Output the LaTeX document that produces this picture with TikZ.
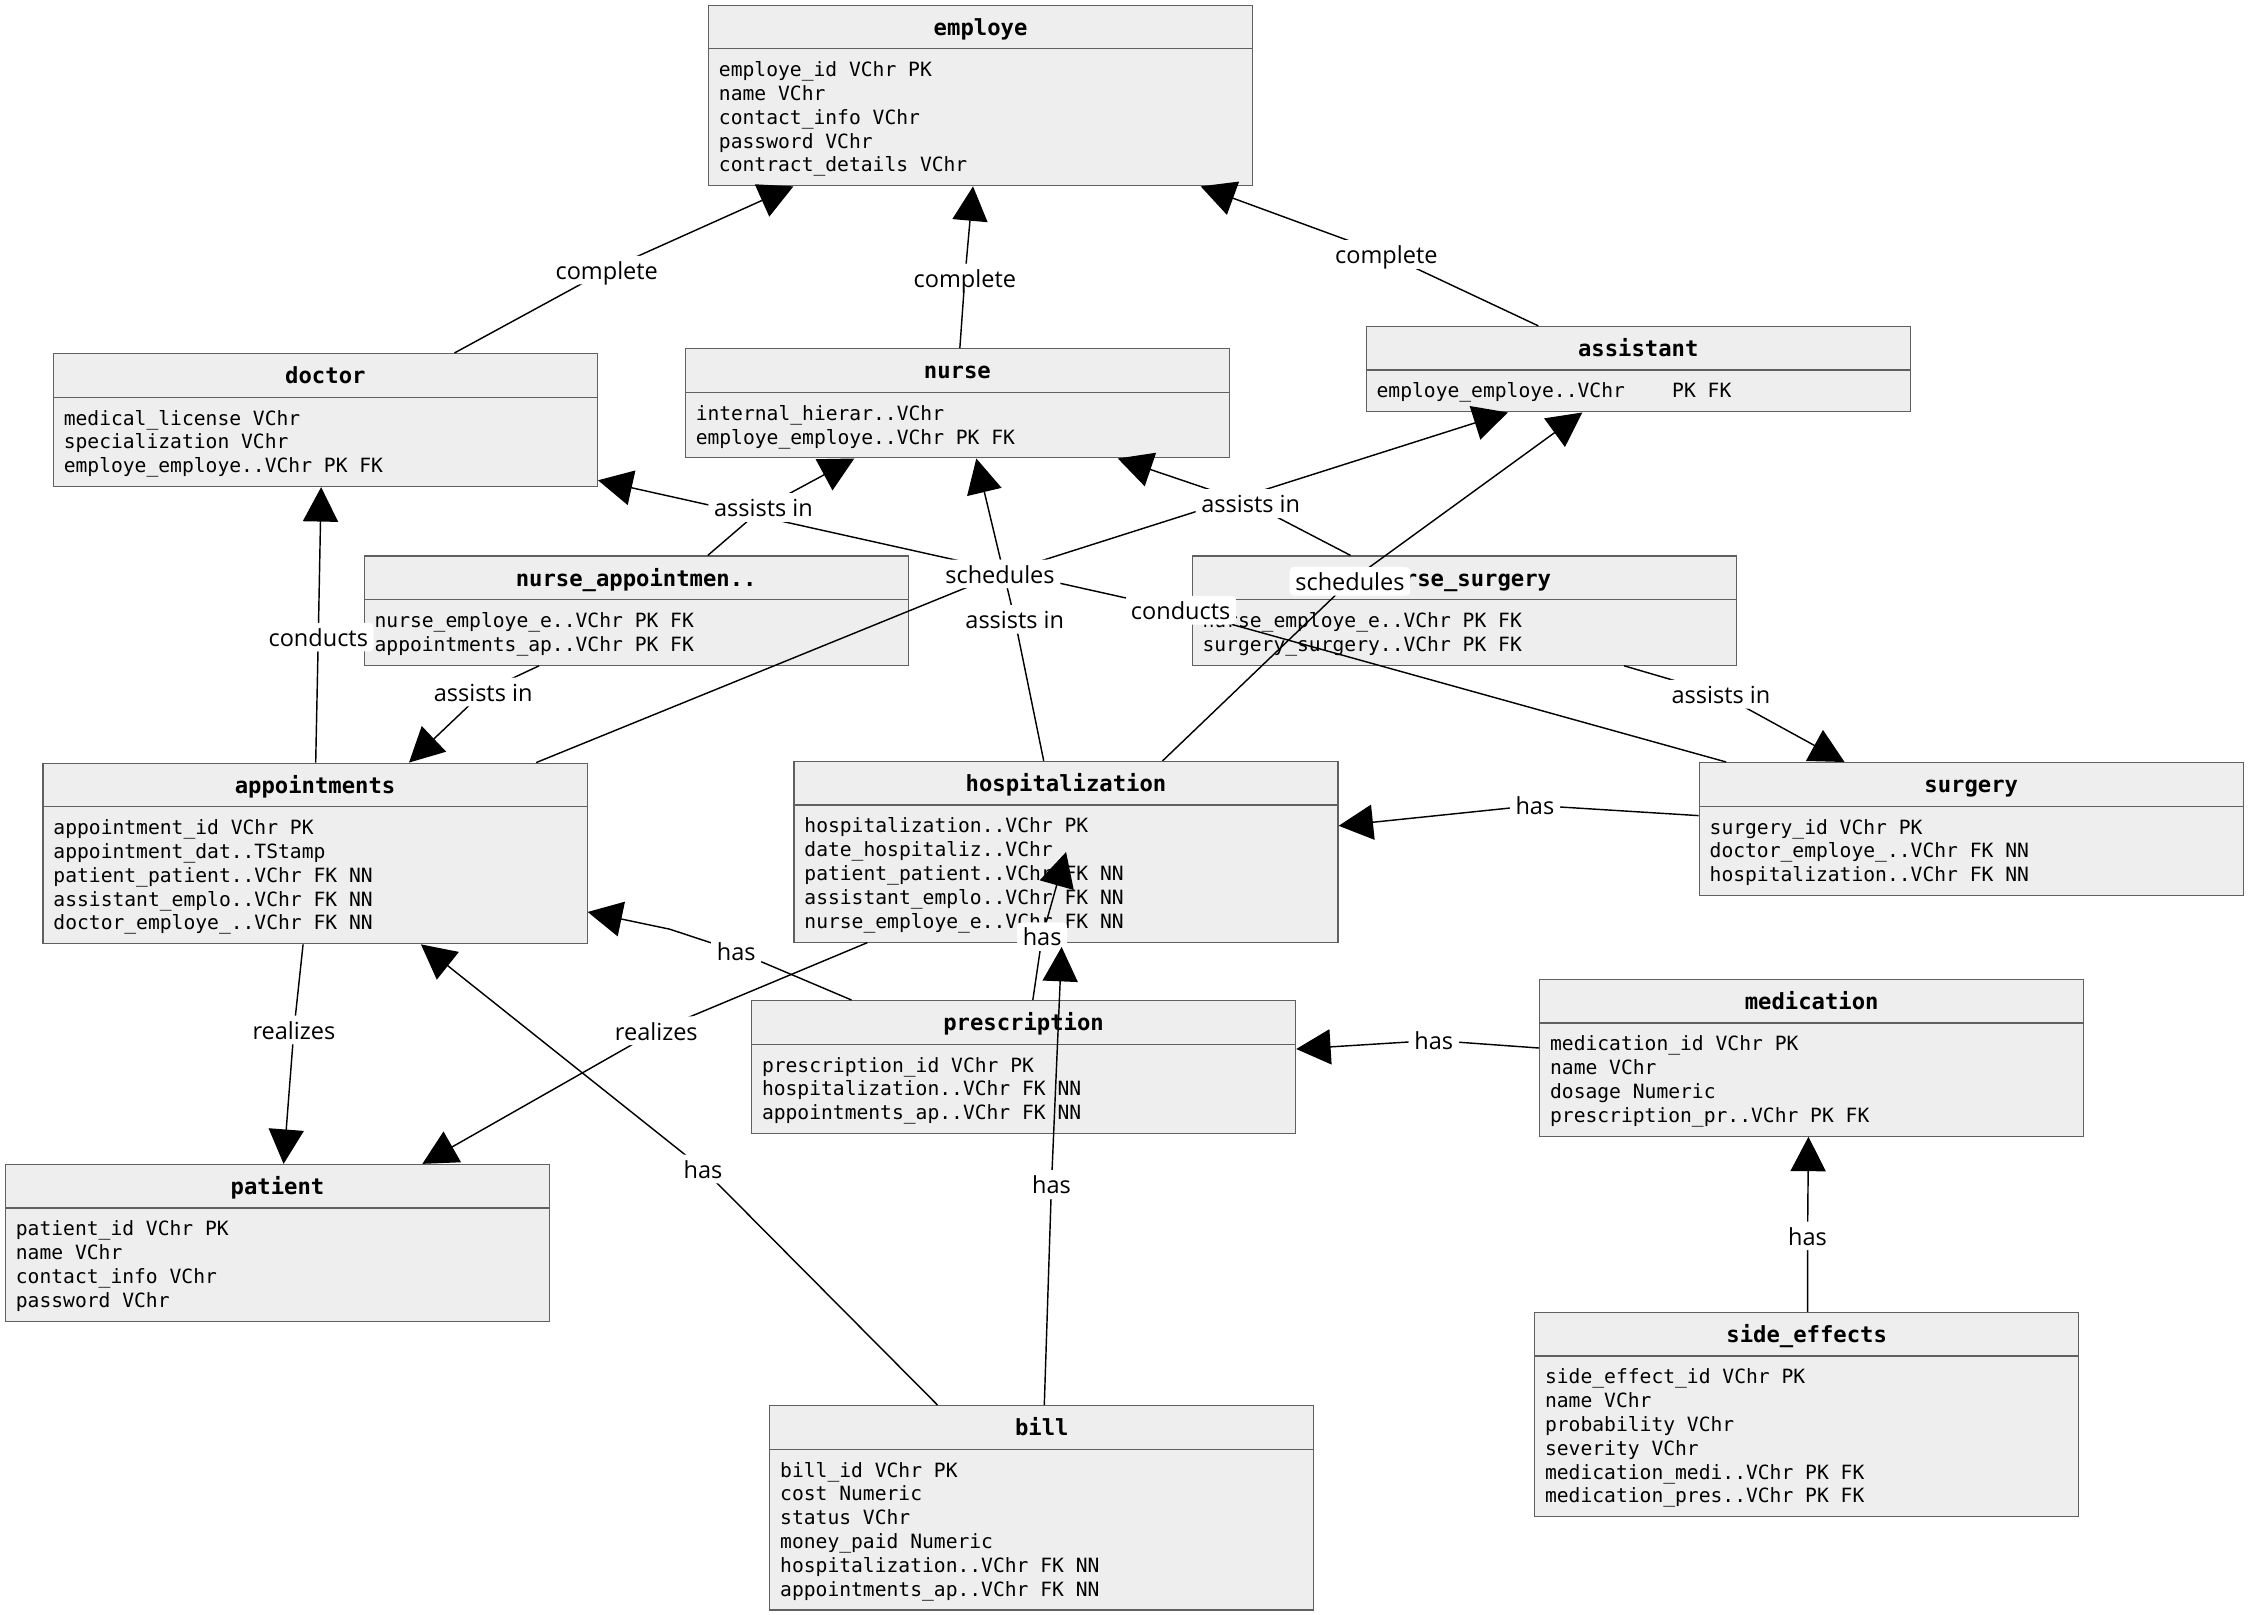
\documentclass[tikz,border=0pt]{standalone}
\usepackage{fontspec}
\setmainfont{Open Sans}
\newfontfamily\lblfamily{Open Sans}
\newfontfamily\monofamily{DejaVu Sans Mono}
\usetikzlibrary{arrows.meta}
\definecolor{boxfill}{HTML}{EEEEEE}
\definecolor{boxline}{HTML}{606060}
\newcommand\ttlfont{\fontsize{15.5pt}{18pt}\monofamily\bfseries}
\newcommand\rowfont{\fontsize{13.7pt}{16.6pt}\monofamily}
\newcommand\lblfont{\fontsize{16.4pt}{19pt}\lblfamily}
\tikzset{
  ebox/.style={draw=boxline, fill=boxfill, line width=0.8pt, minimum width=379.5pt, inner sep=0pt, anchor=north west},
  ediv/.style={draw=boxline, line width=0.8pt},
  etitle/.style={font=\ttlfont, anchor=base, inner sep=0pt},
  erow/.style={font=\rowfont, anchor=base west, inner sep=0pt},
  lbl/.style={font=\lblfont, fill=white, rounded corners=3pt, inner xsep=4pt, inner ysep=2pt, text height=14.5pt, text depth=1.5pt},
  rel/.style={draw=black, line width=1pt, -{Triangle[length=24pt,width=24.5pt]}},
}
% #1 name, #2 left, #3 top, #4 number of rows, #5 title, #6 rows
\newcommand\entity[6]{%
  \node[ebox, minimum height=43pt+16.6pt*#4] (#1) at (#2,#3) {};
  \draw[ediv] ([yshift=-30.8pt]#1.north west) -- ([yshift=-30.8pt]#1.north east);
  \node[etitle] (#1-t) at ([yshift=-21.5pt]#1.north) {#5};
  \foreach \r [count=\i from 0] in {#6} {
    \node[erow] (#1-r\i) at ([shift={(7.5pt,-50.3pt-16.6pt*\i)}]#1.north west) {\r};
  }
}
\begin{document}
\begin{tikzpicture}[x=1pt,y=-1pt]
\fill[white] (0,0) rectangle (1568,1125.8);
\useasboundingbox (0,0) rectangle (1568,1125.8);

% ---------- entities ----------
\entity{employe}{493.8}{3.2}{5}{employe}{{employe\_id VChr PK},{name VChr},{contact\_info VChr},{password VChr},{contract\_details VChr}}
\entity{doctor}{36.8}{246.2}{3}{doctor}{{medical\_license VChr},{specialization VChr},{employe\_employe..VChr PK FK}}
\entity{nurse}{477.6}{242.8}{2}{nurse}{{internal\_hierar..VChr},{employe\_employe..VChr PK FK}}
\entity{assistant}{952.5}{227.3}{1}{assistant}{{employe\_employe..VChr\ \ \ \ PK FK}}
\entity{nurseapp}{253.6}{387.4}{2}{nurse\_appointmen..}{{nurse\_employe\_e..VChr PK FK},{appointments\_ap..VChr PK FK}}
\entity{nursesurg}{831.1}{387.4}{2}{nurse\_surgery}{{nurse\_employe\_e..VChr PK FK},{surgery\_surgery..VChr PK FK}}
\entity{appointments}{29.6}{531.9}{5}{appointments}{{appointment\_id VChr PK},{appointment\_dat..TStamp},{patient\_patient..VChr FK NN},{assistant\_emplo..VChr FK NN},{doctor\_employe\_..VChr FK NN}}
\entity{hospitalization}{553.4}{530.7}{5}{hospitalization}{{hospitalization..VChr PK},{date\_hospitaliz..VChr},{patient\_patient..VChr FK NN},{assistant\_emplo..VChr FK NN},{nurse\_employe\_e..VChr FK NN}}
\entity{surgery}{1184.8}{531.5}{3}{surgery}{{surgery\_id VChr PK},{doctor\_employe\_..VChr FK NN},{hospitalization..VChr FK NN}}
\entity{medication}{1073.5}{682.7}{4}{medication}{{medication\_id VChr PK},{name VChr},{dosage Numeric},{prescription\_pr..VChr PK FK}}
\entity{prescription}{523.8}{697.5}{3}{prescription}{{prescription\_id VChr PK},{hospitalization..VChr FK NN},{appointments\_ap..VChr FK NN}}
\entity{patient}{3.4}{811.8}{4}{patient}{{patient\_id VChr PK},{name VChr},{contact\_info VChr},{password VChr}}
\entity{sideeffects}{1070}{915}{6}{side\_effects}{{side\_effect\_id VChr PK},{name VChr},{probability VChr},{severity VChr},{medication\_medi..VChr PK FK},{medication\_pres..VChr PK FK}}
\entity{bill}{536.5}{980}{6}{bill}{{bill\_id VChr PK},{cost Numeric},{status VChr},{money\_paid Numeric},{hospitalization..VChr FK NN},{appointments\_ap..VChr FK NN}}

% ---------- label positions ----------
\coordinate (L1) at (423.2,188.4);
\coordinate (L2) at (673,193.8);
\coordinate (L3) at (967,177.5);
\coordinate (L4) at (532.5,354);
\coordinate (L5) at (222,444.4);
\coordinate (L6) at (337,482.7);
\coordinate (L7) at (697.5,400.3);
\coordinate (L8) at (707.8,432);
\coordinate (L9) at (823.5,425.6);
\coordinate (L10) at (872.4,351.2);
\coordinate (L11) at (941.6,405.5);
\coordinate (L12) at (1200.4,484.2);
\coordinate (L13) at (1070.6,561.8);
\coordinate (L14) at (513.5,663.4);
\coordinate (L15) at (726.9,653.3);
\coordinate (L16) at (733.4,826.2);
\coordinate (L17) at (490.4,815.4);
\coordinate (L18) at (205,718.4);
\coordinate (L19) at (457.8,719);
\coordinate (L20) at (1000,725.7);
\coordinate (L21) at (1260.8,862);
\coordinate (B14) at (467.1,648.1);

% ---------- connectors ----------
\draw[rel] ([xshift=280.2pt]doctor.north west) -- (L1) -- ([xshift=59.6pt]employe.south west);
\draw[rel] ([xshift=191.9pt]nurse.north west) -- (L2) -- ([xshift=184.9pt]employe.south west);
\draw[rel] ([xshift=120.5pt]assistant.north west) -- (L3) -- ([xshift=343.7pt]employe.south west);
\draw[rel] ([xshift=240.1pt]nurseapp.north west) -- (L4) -- ([xshift=118.3pt]nurse.south west);
\draw[rel] ([xshift=190.6pt]appointments.north west) -- (L5) -- ([xshift=187.2pt]doctor.south west);
\draw[rel] ([xshift=122.4pt]nurseapp.south west) -- (L6) -- ([xshift=255.7pt]appointments.north west);
\draw[rel] ([xshift=344.4pt]appointments.north west) -- (L7) -- ([xshift=99.2pt]assistant.south west);
\draw[rel] ([xshift=174.6pt]hospitalization.north west) -- (L8) -- ([xshift=203.4pt]nurse.south west);
\draw[rel] ([xshift=19.2pt]surgery.north west) -- (L9) -- ([yshift=-88.8pt]doctor.north east);
\draw[rel] ([xshift=110.9pt]nursesurg.north west) -- (L10) -- ([xshift=302.1pt]nurse.south west);
\draw[rel] ([xshift=257.5pt]hospitalization.north west) -- (L11) -- ([xshift=151.2pt]assistant.south west);
\draw[rel] ([xshift=301.7pt]nursesurg.south west) -- (L12) -- ([xshift=101.8pt]surgery.north west);
\draw[rel] ([yshift=-37.4pt]surgery.north west) -- (L13) -- ([yshift=-45.3pt]hospitalization.north east);
\draw[rel] ([xshift=70.1pt]prescription.north west) -- (L14) -- (B14) -- ([yshift=-104.2pt]appointments.north east);
\draw[rel] ([xshift=196.6pt]prescription.north west) -- (L15) -- ([shift={(190.2pt,-63.6pt)}]hospitalization.north west);
\draw[rel] ([xshift=117.4pt]bill.north west) -- (L17) -- ([xshift=264pt]appointments.south west);
\draw[rel] ([xshift=181.8pt]appointments.south west) -- (L18) -- ([xshift=194.4pt]patient.north west);
\draw[rel] ([xshift=51.6pt]hospitalization.south west) -- (L19) -- ([xshift=291.2pt]patient.north west);
\draw[rel] ([yshift=-48.3pt]medication.north west) -- (L20) -- ([yshift=-34.2pt]prescription.north east);
\draw[rel] ([xshift=190.8pt]sideeffects.north west) -- (L21) -- ([xshift=187.9pt]medication.south west);

% ---------- labels ----------
\node[lbl] (t1) at (L1) {complete};
\node[lbl] (t2) at (L2) {complete};
\node[lbl] (t3) at (L3) {complete};
\node[lbl] (t4) at (L4) {assists in};
\node[lbl] (t5) at (L5) {conducts};
\node[lbl] (t6) at (L6) {assists in};
\node[lbl] (t7) at (L7) {schedules};
\node[lbl] (t8) at (L8) {assists in};
\node[lbl] (t9) at (L9) {conducts};
\node[lbl] (t10) at (L10) {assists in};
\node[lbl] (t11) at (L11) {schedules};
\node[lbl] (t12) at (L12) {assists in};
\node[lbl] (t13) at (L13) {has};
\node[lbl] (t14) at (L14) {has};
\node[lbl] (t15) at (L15) {has};
\node[lbl] (t17) at (L17) {has};
\node[lbl] (t18) at (L18) {realizes};
\node[lbl] (t19) at (L19) {realizes};
\node[lbl] (t20) at (L20) {has};
\node[lbl] (t21) at (L21) {has};

% bill -> hospitalization drawn last (its head lies over the other label)
\draw[rel] ([xshift=191.9pt]bill.north west) -- (L16) -- ([shift={(187.1pt,-129.8pt)}]hospitalization.north west);
\node[lbl] (t16) at (L16) {has};
\end{tikzpicture}
\end{document}
